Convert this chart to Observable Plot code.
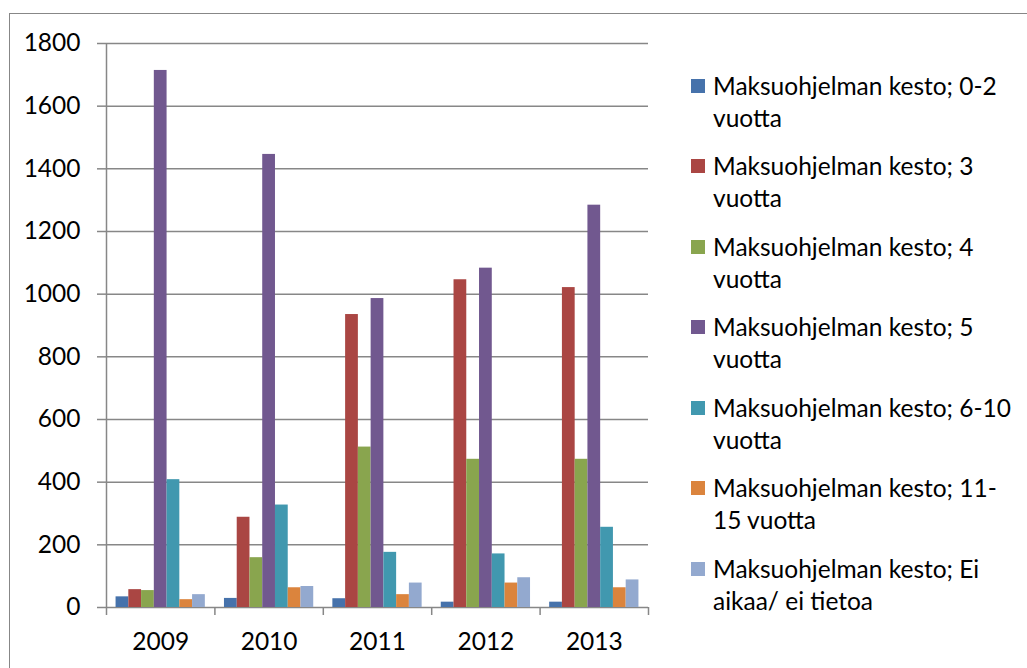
<!DOCTYPE html>
<html>
<head>
<meta charset="utf-8">
<script src="https://cdn.jsdelivr.net/npm/d3@7"></script>
<script src="https://cdn.jsdelivr.net/npm/@observablehq/plot@0.6"></script>
<style>
  html, body { margin: 0; padding: 0; background: #fff; }
  #wrap { position: relative; width: 1027px; height: 668px; overflow: hidden; background: #fff; font-family: Lato, "Liberation Sans", sans-serif; }
  #border { position: absolute; left: 9px; top: 13px; width: 1100px; height: 800px; border-left: 1.5px solid #878787; border-top: 1.5px solid #878787; box-sizing: border-box; }
  #chart { position: absolute; left: 0; top: 0; }
  #legend { position: absolute; left: 691px; top: 70px; }
  .item { display: flex; align-items: flex-start; margin-bottom: 16.45px; }
  .sw { width: 14px; height: 14px; margin-top: 9px; margin-right: 8px; flex: none; }
  .lbl { font-size: 24.5px; line-height: 32px; color: #000; white-space: pre; }
</style>
</head>
<body>
<div id="wrap">
  <div id="border"></div>
  <div id="chart"></div>
  <div id="legend"></div>
</div>
<script>
const years = ["2009", "2010", "2011", "2012", "2013"];
const series = [
  "Maksuohjelman kesto; 0-2 vuotta",
  "Maksuohjelman kesto; 3 vuotta",
  "Maksuohjelman kesto; 4 vuotta",
  "Maksuohjelman kesto; 5 vuotta",
  "Maksuohjelman kesto; 6-10 vuotta",
  "Maksuohjelman kesto; 11-15 vuotta",
  "Maksuohjelman kesto; Ei aikaa/ ei tietoa"
];
const legendLabels = [
  "Maksuohjelman kesto; 0-2\nvuotta",
  "Maksuohjelman kesto; 3\nvuotta",
  "Maksuohjelman kesto; 4\nvuotta",
  "Maksuohjelman kesto; 5\nvuotta",
  "Maksuohjelman kesto; 6-10\nvuotta",
  "Maksuohjelman kesto; 11-\n15 vuotta",
  "Maksuohjelman kesto; Ei\naikaa/ ei tietoa"
];
const v0_2   = [34, 29, 28, 17, 17];
const v3     = [57, 288, 935, 1046, 1021];
const v4     = [54, 159, 512, 473, 473];
const v5     = [1714, 1446, 986, 1083, 1284];
const v6_10  = [408, 327, 176, 171, 256];
const v11_15 = [25, 63, 41, 78, 63];
const vEi    = [41, 67, 78, 95, 88];
const yTicks = [0, 200, 400, 600, 800, 1000, 1200, 1400, 1600, 1800];
const colors = ["#4672AB", "#AA4643", "#89A54E", "#71588F", "#4198AF", "#DB843D", "#93A9CF"];

const seriesValues = [v0_2, v3, v4, v5, v6_10, v11_15, vEi];
const data = years.flatMap((year, i) =>
  seriesValues.map((vals, j) => ({year, yi: i, series: series[j], sj: j, value: vals[i]}))
);

const N = series.length;
const GAP = 1.5; // gap width between groups, in bar widths
const grid = "#878787";
const FS = 24.5;

const chart = Plot.plot({
  width: 680,
  height: 668,
  marginLeft: 106,
  marginRight: 32,
  marginTop: 43,
  marginBottom: 61,
  style: {fontFamily: "Lato, 'Liberation Sans', sans-serif", fontSize: FS + "px", color: "#000", background: "transparent", overflow: "visible"},
  x: {domain: [0, years.length], axis: null},
  y: {domain: [0, 1800], axis: null},
  color: {domain: series, range: colors},
  marks: [
    Plot.gridY(yTicks, {stroke: grid, strokeOpacity: 1, strokeWidth: 1.5}),
    Plot.rectY(data, {
      x1: d => d.yi + (GAP / 2 + d.sj) / (N + GAP),
      x2: d => d.yi + (GAP / 2 + d.sj + 1) / (N + GAP),
      y1: 0,
      y2: "value",
      fill: "series"
    }),
    Plot.ruleX([0], {stroke: grid, strokeWidth: 1.5}),
    Plot.axisY(yTicks, {tickSize: 9, tickPadding: 17, tickFormat: d => String(d), stroke: grid, strokeWidth: 1.5, fill: "#000", fontSize: FS, label: null}),
    Plot.axisX(d3.range(0, years.length + 1), {tickSize: 8, tickFormat: () => "", stroke: grid, strokeWidth: 1.5, label: null}),
    Plot.axisX(years.map((_, i) => i + 0.5), {tickSize: 0, tickPadding: 25, tickFormat: d => years[Math.floor(d)], fill: "#000", fontSize: FS, label: null})
  ]
});
document.getElementById("chart").appendChild(chart);

const legend = d3.select("#legend");
series.forEach((s, i) => {
  const item = legend.append("div").attr("class", "item");
  item.append("div").attr("class", "sw").style("background", colors[i]);
  item.append("div").attr("class", "lbl").text(legendLabels[i]);
});
</script>
</body>
</html>
